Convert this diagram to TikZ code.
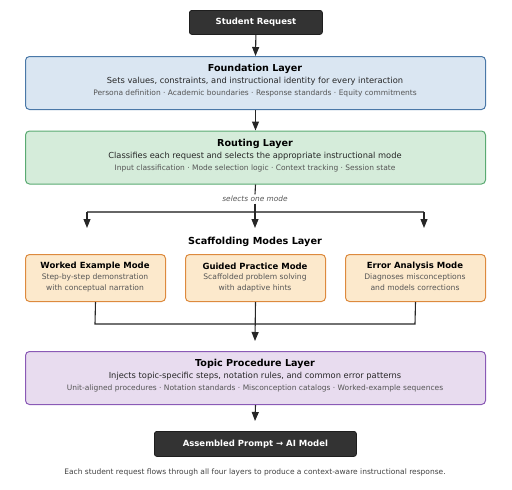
\documentclass[tikz,border=0pt]{standalone}
\usepackage{fontspec}
\setmainfont{DejaVu Sans}
\usetikzlibrary{arrows.meta}
\definecolor{darkbox}{HTML}{333333}
\definecolor{darkedge}{HTML}{1E1E1E}
\definecolor{bluefill}{HTML}{DAE6F2}
\definecolor{blueedge}{HTML}{4A78A8}
\definecolor{greenfill}{HTML}{D5ECDA}
\definecolor{greenedge}{HTML}{5AAA72}
\definecolor{orangefill}{HTML}{FCE9CC}
\definecolor{orangeedge}{HTML}{DD8A3E}
\definecolor{purplefill}{HTML}{E8DCEF}
\definecolor{purpleedge}{HTML}{8A5AB6}
\definecolor{detailgray}{HTML}{555555}
\tikzset{
  x=1pt, y=-1pt,
  termbox/.style={draw=darkedge, fill=darkbox, rounded corners=2.5pt, line width=0.8pt,
    text=white, font=\fontsize{8.5}{10}\selectfont\bfseries, inner sep=0pt, anchor=north west},
  layerbox/.style={rounded corners=4pt, line width=1pt, inner sep=0pt, anchor=north west,
    minimum width=460pt, minimum height=53pt},
  modebox/.style={rounded corners=4pt, line width=1pt, inner sep=0pt, anchor=north west,
    draw=orangeedge, fill=orangefill, minimum width=140pt, minimum height=47pt},
  ttl/.style={font=\fontsize{9.6}{11}\selectfont\bfseries, anchor=center, inner sep=0pt},
  mttl/.style={font=\fontsize{8.5}{10}\selectfont\bfseries, anchor=center, inner sep=0pt},
  sub/.style={font=\fontsize{8.3}{10}\selectfont, text=black!85, anchor=center, inner sep=0pt},
  det/.style={font=\fontsize{7.5}{9}\selectfont, text=detailgray, anchor=center, inner sep=0pt},
  msub/.style={font=\fontsize{7.6}{10.3}\selectfont, text=detailgray, align=center, anchor=north, inner sep=0pt},
  flow/.style={line width=1.1pt, draw=black!85, -{Triangle[width=7pt,length=9pt]}},
  plain/.style={line width=1.1pt, draw=black!85},
}
\begin{document}
\begin{tikzpicture}
\useasboundingbox (0,0) rectangle (512,490);

% Student request
\node[termbox, minimum width=133pt, minimum height=24pt] (req) at (189,10) {Student Request};

% Foundation
\node[layerbox, draw=blueedge, fill=bluefill] (found) at (25,56) {};
\node[ttl] (foundT) at (255,69) {Foundation Layer};
\node[sub] (foundS) at (255,81.5) {Sets values, constraints, and instructional identity for every interaction};
\node[det] (foundD) at (255,93.5) {Persona definition · Academic boundaries · Response standards · Equity commitments};

% Routing
\node[layerbox, draw=greenedge, fill=greenfill] (route) at (25,130.5) {};
\node[ttl] (routeT) at (255,144) {Routing Layer};
\node[sub] (routeS) at (255,156.5) {Classifies each request and selects the appropriate instructional mode};
\node[det] (routeD) at (255,168.5) {Input classification · Mode selection logic · Context tracking · Session state};

% selects one mode
\node[font=\fontsize{7.4}{9}\selectfont\itshape, text=detailgray, inner sep=1.5pt] (sel) at (255,199) {selects one mode};
\coordinate (split) at (255,212);
\coordinate (sl) at (87,212);
\coordinate (sr) at (424,212);

% Scaffolding header
\node[font=\fontsize{9.7}{11}\selectfont\bfseries, inner sep=0pt] (scafT) at (255,241.5) {Scaffolding Modes Layer};

% Modes
\node[modebox] (m1) at (25,254) {};
\node[modebox] (m2) at (185,254) {};
\node[modebox] (m3) at (345,254) {};
\node[mttl] (m1T) at (95,266.5) {Worked Example Mode};
\node[mttl] (m2T) at (255,266.5) {Guided Practice Mode};
\node[mttl] (m3T) at (415,266.5) {Error Analysis Mode};
\node[msub] (m1S) at (95,274) {Step-by-step demonstration\\with conceptual narration};
\node[msub] (m2S) at (255,274) {Scaffolded problem solving\\with adaptive hints};
\node[msub] (m3S) at (415,274) {Diagnoses misconceptions\\and models corrections};

\coordinate (jl) at (95,324);
\coordinate (jr) at (415,324);

% Topic
\node[layerbox, draw=purpleedge, fill=purplefill] (topic) at (25,351) {};
\node[ttl] (topicT) at (255,363.5) {Topic Procedure Layer};
\node[sub] (topicS) at (255,376) {Injects topic-specific steps, notation rules, and common error patterns};
\node[det] (topicD) at (255,388) {Unit-aligned procedures · Notation standards · Misconception catalogs · Worked-example sequences};

% Assembled
\node[termbox, minimum width=202pt, minimum height=25pt] (out) at (154,431) {Assembled Prompt → AI Model};

% Caption
\node[font=\fontsize{7.5}{9}\selectfont, text=black!75, inner sep=0pt] (cap) at (255,472.5) {Each student request flows through all four layers to produce a context-aware instructional response.};

% Connectors
\draw[flow] (req.south) -- (found.north);
\draw[flow] (found.south) -- (route.north);
\draw[plain] (route.south) -- (sel.north);
\draw[plain, draw=black!60] (sl) -- (sr);
\draw[flow] (sel.south) -- (255,228);
\draw[flow] (sl) -- (87,228);
\draw[flow] (sr) -- (424,228);
\draw[plain] (m1.south) -- (jl) -- (jr) -- (m3.south);
\draw[flow] (m2.south) -- (255,341);
\draw[flow] (topic.south) -- (255,421);
\end{tikzpicture}
\end{document}
